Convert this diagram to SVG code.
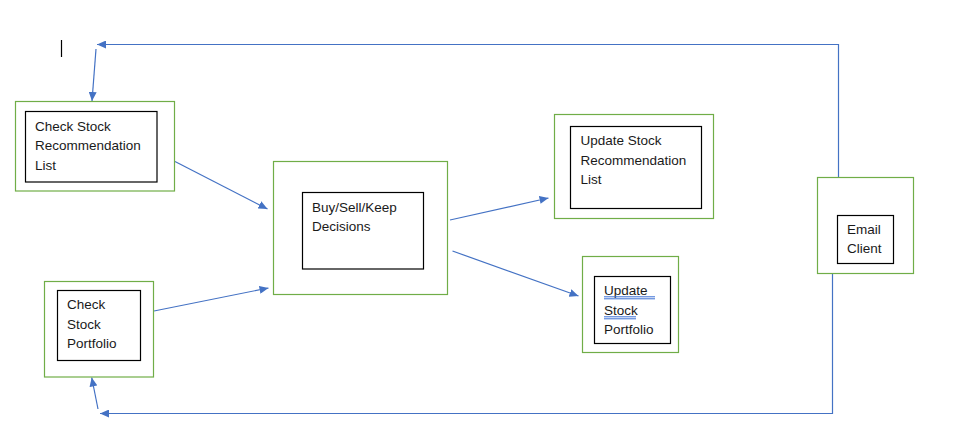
<svg xmlns="http://www.w3.org/2000/svg" width="974" height="442" viewBox="0 0 974 442">
<style>
.outer{fill:#fff;stroke:#70AD47;stroke-width:1.2}
.inner{fill:#fff;stroke:#000;stroke-width:1.2}
.lbl{font-family:"Liberation Sans",Arial,sans-serif;font-size:13.5px;fill:#1a1a1a}
.conn{fill:none;stroke:#4472C4;stroke-width:1.2}
.ul{stroke:#3b6fd4;stroke-width:1}
</style>
<defs>
<marker id="ah" viewBox="0 0 9 8" refX="9" refY="4" markerWidth="9" markerHeight="8" markerUnits="userSpaceOnUse" orient="auto">
<path d="M0,0 L9,4 L0,8 z" fill="#4472C4"/>
</marker>
</defs>
<rect width="974" height="442" fill="#fff"/>
<line x1="61.5" y1="40" x2="61.5" y2="57" stroke="#000" stroke-width="1.2"/>
<g id="connectors">
<polyline class="conn" points="838.5,177 838.5,44.5 97,44.5" marker-end="url(#ah)"/>
<line class="conn" x1="96" y1="49" x2="92" y2="101" marker-end="url(#ah)"/>
<polyline class="conn" points="832.5,273 832.5,413.5 100,413.5" marker-end="url(#ah)"/>
<line class="conn" x1="98" y1="409" x2="91.7" y2="377.5" marker-end="url(#ah)"/>
<line class="conn" x1="175" y1="161.5" x2="267.5" y2="209" marker-end="url(#ah)"/>
<line class="conn" x1="154" y1="311" x2="268.5" y2="288" marker-end="url(#ah)"/>
<line class="conn" x1="450" y1="220" x2="548.5" y2="198" marker-end="url(#ah)"/>
<line class="conn" x1="452.5" y1="251" x2="578.5" y2="296" marker-end="url(#ah)"/>
</g>
<g id="check-rec">
<rect class="outer" x="15.5" y="101.5" width="159" height="89.5"/>
<rect class="inner" x="25.5" y="111.5" width="131.5" height="70.5"/>
<text class="lbl" x="35" y="130.5">Check Stock</text>
<text class="lbl" x="35" y="150">Recommendation</text>
<text class="lbl" x="35" y="169.5">List</text>
</g>
<g id="check-portfolio">
<rect class="outer" x="44.5" y="281.5" width="109" height="95.5"/>
<rect class="inner" x="57.5" y="290.5" width="83" height="70"/>
<text class="lbl" x="67" y="308.5">Check</text>
<text class="lbl" x="67" y="328.5">Stock</text>
<text class="lbl" x="67" y="347.5">Portfolio</text>
</g>
<g id="decisions">
<rect class="outer" x="273.5" y="161.5" width="174" height="133"/>
<rect class="inner" x="302.5" y="192.5" width="121" height="76.5"/>
<text class="lbl" x="312" y="211.5">Buy/Sell/Keep</text>
<text class="lbl" x="312" y="231">Decisions</text>
</g>
<g id="update-rec">
<rect class="outer" x="554.5" y="114.5" width="159" height="104"/>
<rect class="inner" x="570.5" y="126.5" width="131" height="82"/>
<text class="lbl" x="580.5" y="145">Update Stock</text>
<text class="lbl" x="580.5" y="165">Recommendation</text>
<text class="lbl" x="580.5" y="183.5">List</text>
</g>
<g id="update-portfolio">
<rect class="outer" x="582.5" y="256.5" width="96" height="96"/>
<rect class="inner" x="594.5" y="276.5" width="76" height="67"/>
<text class="lbl" x="604" y="295">Update</text>
<text class="lbl" x="604" y="315">Stock</text>
<text class="lbl" x="604" y="333.5">Portfolio</text>
<line class="ul" x1="604" y1="296.8" x2="655" y2="296.8"/>
<line class="ul" x1="604" y1="298.8" x2="655" y2="298.8"/>
<line class="ul" x1="604" y1="316.8" x2="636" y2="316.8"/>
<line class="ul" x1="604" y1="318.8" x2="636" y2="318.8"/>
</g>
<g id="email-client">
<rect class="outer" x="817.5" y="177.5" width="96" height="96"/>
<rect class="inner" x="837.5" y="215.5" width="56" height="48"/>
<text class="lbl" x="847" y="234">Email</text>
<text class="lbl" x="847" y="252.5">Client</text>
</g>
</svg>
